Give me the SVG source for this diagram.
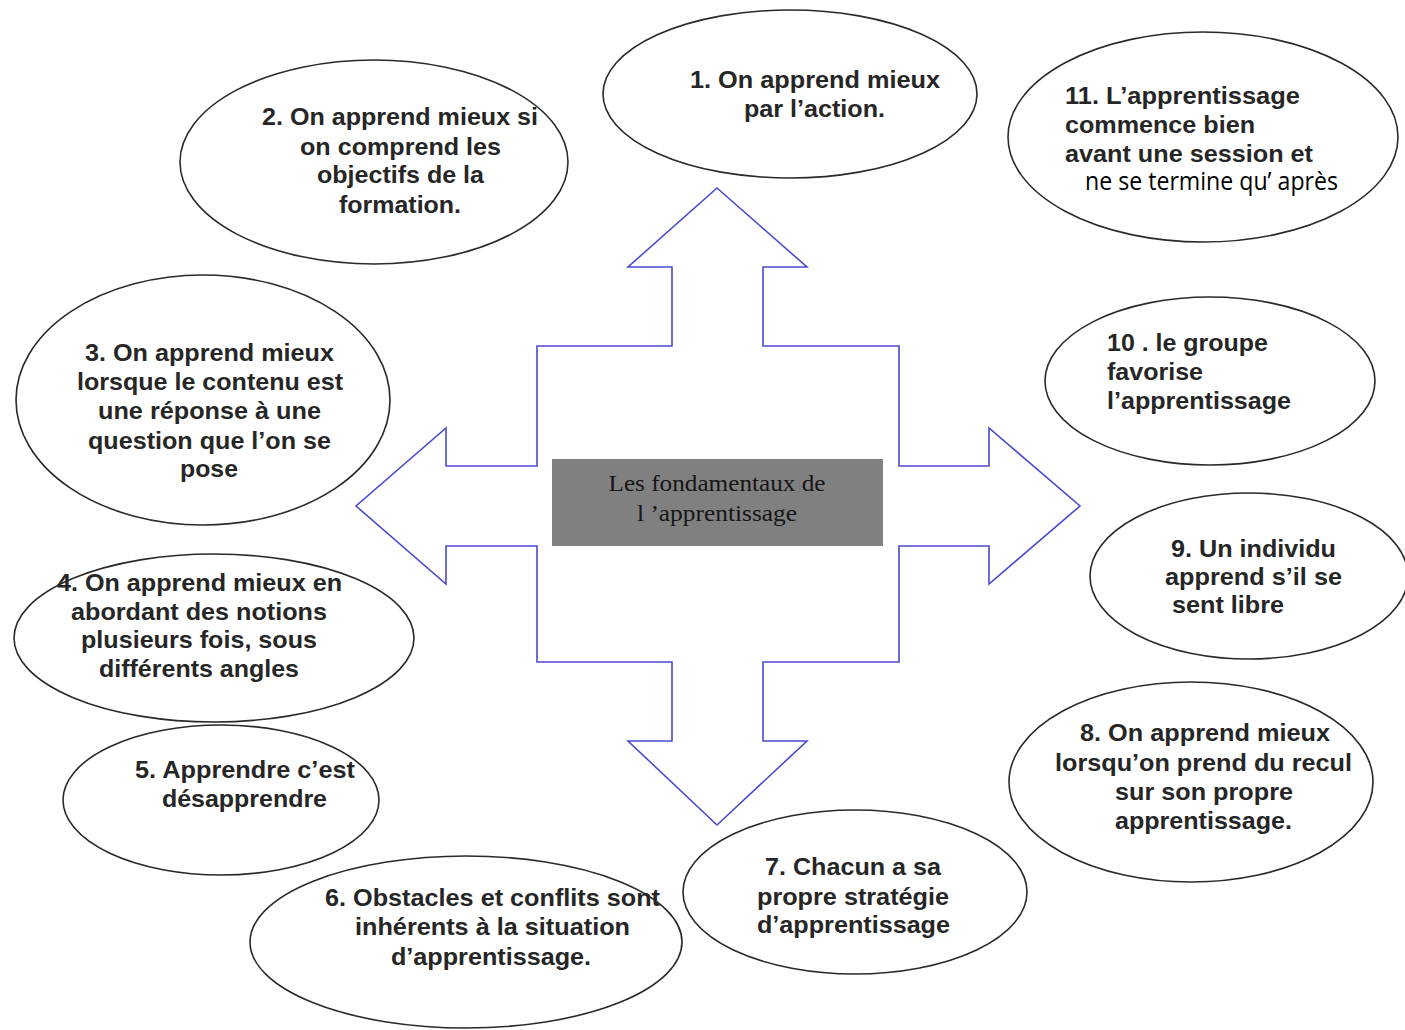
<svg xmlns="http://www.w3.org/2000/svg" width="1405" height="1030" viewBox="0 0 1405 1030">
<style>
.bg{fill:#ffffff}
.el{fill:none;stroke:#2a2a2a;stroke-width:1.6}
.t{font-family:"Liberation Sans",Arial,sans-serif;font-size:24px;font-weight:bold;fill:#262626}
.c{font-family:"Open Sans","Noto Sans",sans-serif;font-size:25px;fill:#000000}
.arrow{fill:#ffffff;stroke:#4a4ad0;stroke-width:1.6;stroke-linejoin:miter}
.box{fill:#808080}
.bt{font-family:"Liberation Serif","Times New Roman",serif;font-size:23px;fill:#161616;text-anchor:middle}
</style>
<rect class="bg" x="0" y="0" width="1405" height="1030"/>
<g id="connectors">
<path class="arrow" d="M717,188 L807,267 L763,267 L763,346 L899,346 L899,466 L989,466 L989,428 L1080,506 L989,584 L989,546 L899,546 L899,662 L763,662 L763,741 L807,741 L717,825 L628,741 L672,741 L672,662 L537,662 L537,546 L446,546 L446,584 L356,506 L446,428 L446,466 L537,466 L537,346 L672,346 L672,267 L628,267 Z"/>
</g>
<g id="center">
<rect class="box" x="552" y="459" width="331" height="87"/>
<text class="bt" x="717" y="491" textLength="217" lengthAdjust="spacingAndGlyphs">Les fondamentaux de</text>
<text class="bt" x="717" y="521" textLength="160" lengthAdjust="spacingAndGlyphs">l ’apprentissage</text>
</g>
<g id="n1">
<ellipse class="el" cx="790" cy="94" rx="187" ry="84"/>
<text class="t" x="690" y="88" textLength="250" lengthAdjust="spacingAndGlyphs">1. On apprend mieux</text>
<text class="t" x="744" y="117" textLength="141" lengthAdjust="spacingAndGlyphs">par l’action.</text>
</g>
<g id="n2">
<ellipse class="el" cx="374" cy="162" rx="194" ry="102"/>
<text class="t" x="262" y="125" textLength="276" lengthAdjust="spacingAndGlyphs">2. On apprend mieux si</text>
<text class="t" x="300" y="155" textLength="201" lengthAdjust="spacingAndGlyphs">on comprend les</text>
<text class="t" x="317" y="183" textLength="167" lengthAdjust="spacingAndGlyphs">objectifs de la</text>
<text class="t" x="339" y="213" textLength="122" lengthAdjust="spacingAndGlyphs">formation.</text>
</g>
<g id="n3">
<ellipse class="el" cx="203" cy="400" rx="187" ry="125"/>
<text class="t" x="85" y="361" textLength="249" lengthAdjust="spacingAndGlyphs">3. On apprend mieux</text>
<text class="t" x="77" y="390" textLength="266" lengthAdjust="spacingAndGlyphs">lorsque le contenu est</text>
<text class="t" x="98" y="419" textLength="223" lengthAdjust="spacingAndGlyphs">une réponse à une</text>
<text class="t" x="88" y="449" textLength="243" lengthAdjust="spacingAndGlyphs">question que l’on se</text>
<text class="t" x="180" y="477" textLength="58" lengthAdjust="spacingAndGlyphs">pose</text>
</g>
<g id="n4">
<ellipse class="el" cx="214" cy="638" rx="200" ry="84"/>
<text class="t" x="57" y="591" textLength="285" lengthAdjust="spacingAndGlyphs">4. On apprend mieux en</text>
<text class="t" x="71" y="620" textLength="256" lengthAdjust="spacingAndGlyphs">abordant des notions</text>
<text class="t" x="81" y="648" textLength="236" lengthAdjust="spacingAndGlyphs">plusieurs fois, sous</text>
<text class="t" x="99" y="677" textLength="200" lengthAdjust="spacingAndGlyphs">différents angles</text>
</g>
<g id="n5">
<ellipse class="el" cx="221" cy="800" rx="158" ry="75"/>
<text class="t" x="135" y="778" textLength="220" lengthAdjust="spacingAndGlyphs">5. Apprendre c’est</text>
<text class="t" x="162" y="807" textLength="165" lengthAdjust="spacingAndGlyphs">désapprendre</text>
</g>
<g id="n6">
<ellipse class="el" cx="466" cy="942" rx="216" ry="86"/>
<text class="t" x="325" y="906" textLength="335" lengthAdjust="spacingAndGlyphs">6. Obstacles et conflits sont</text>
<text class="t" x="355" y="935" textLength="275" lengthAdjust="spacingAndGlyphs">inhérents à la situation</text>
<text class="t" x="391" y="965" textLength="200" lengthAdjust="spacingAndGlyphs">d’apprentissage.</text>
</g>
<g id="n7">
<ellipse class="el" cx="855" cy="892" rx="172" ry="82"/>
<text class="t" x="765" y="875" textLength="176" lengthAdjust="spacingAndGlyphs">7. Chacun a sa</text>
<text class="t" x="757" y="905" textLength="192" lengthAdjust="spacingAndGlyphs">propre stratégie</text>
<text class="t" x="757" y="933" textLength="193" lengthAdjust="spacingAndGlyphs">d’apprentissage</text>
</g>
<g id="n8">
<ellipse class="el" cx="1191" cy="782" rx="182" ry="100"/>
<text class="t" x="1080" y="741" textLength="250" lengthAdjust="spacingAndGlyphs">8. On apprend mieux</text>
<text class="t" x="1055" y="771" textLength="297" lengthAdjust="spacingAndGlyphs">lorsqu’on prend du recul</text>
<text class="t" x="1115" y="800" textLength="178" lengthAdjust="spacingAndGlyphs">sur son propre</text>
<text class="t" x="1115" y="829" textLength="177" lengthAdjust="spacingAndGlyphs">apprentissage.</text>
</g>
<g id="n9">
<ellipse class="el" cx="1249" cy="576" rx="159" ry="83"/>
<text class="t" x="1171" y="557" textLength="165" lengthAdjust="spacingAndGlyphs">9. Un individu</text>
<text class="t" x="1165" y="585" textLength="177" lengthAdjust="spacingAndGlyphs">apprend s’il se</text>
<text class="t" x="1172" y="613" textLength="112" lengthAdjust="spacingAndGlyphs">sent libre</text>
</g>
<g id="n10">
<ellipse class="el" cx="1210" cy="381" rx="165" ry="84"/>
<text class="t" x="1107" y="351" textLength="161" lengthAdjust="spacingAndGlyphs">10 . le groupe</text>
<text class="t" x="1107" y="380" textLength="96" lengthAdjust="spacingAndGlyphs">favorise</text>
<text class="t" x="1107" y="409" textLength="184" lengthAdjust="spacingAndGlyphs">l’apprentissage</text>
</g>
<g id="n11">
<ellipse class="el" cx="1203" cy="137" rx="195" ry="105"/>
<text class="t" x="1065" y="104" textLength="235" lengthAdjust="spacingAndGlyphs">11. L’apprentissage</text>
<text class="t" x="1065" y="133" textLength="190" lengthAdjust="spacingAndGlyphs">commence bien</text>
<text class="t" x="1065" y="162" textLength="248" lengthAdjust="spacingAndGlyphs">avant une session et</text>
<text class="c" x="1085" y="190" textLength="253" lengthAdjust="spacingAndGlyphs">ne se termine qu’ après</text>
</g>
</svg>
